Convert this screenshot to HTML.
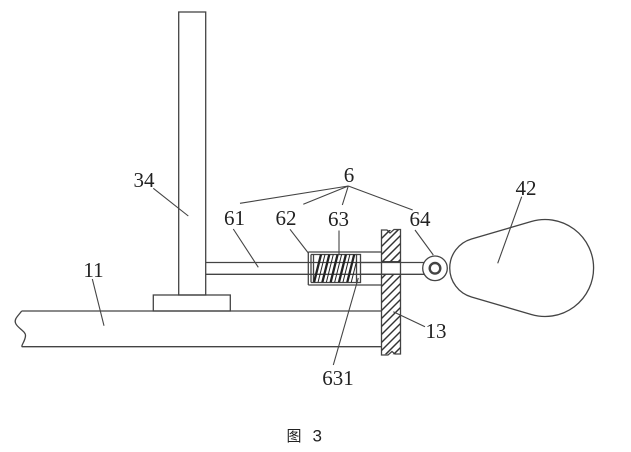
<!DOCTYPE html>
<html><head><meta charset="utf-8"><style>
html,body{margin:0;padding:0;background:#fff;}
svg{display:block;}
text{font-family:"Liberation Serif","Noto Serif CJK SC",serif;font-size:21px;fill:#222;}
</style></head><body>
<svg width="631" height="452" viewBox="0 0 631 452" xmlns="http://www.w3.org/2000/svg">
<defs>
<clipPath id="wallclip">
<rect x="381.5" y="230" width="19" height="31.7"/>
<rect x="381.5" y="274.3" width="19" height="80"/>
</clipPath>
<clipPath id="springclip">
<rect x="313.5" y="254.3" width="43" height="28"/>
</clipPath>
</defs>
<g fill="none" stroke="#444" stroke-width="1.3">
<!-- pole 34 -->
<rect x="178.7" y="12" width="27" height="283"/>
<!-- base -->
<rect x="153.3" y="295" width="77" height="16"/>
<!-- plate 11 -->
<path d="M21.7 311 L381.5 311 M21.7 346.7 L381.5 346.7"/>
<path d="M21.7 311 C18 316 14 319 15.5 323 C17 328 26 331 25.5 336 C25 341 22 344 21.7 346.7"/>
<!-- rod 61 -->
<path d="M205.7 262.5 L308.3 262.5 M205.7 274.3 L308.3 274.3"/>
<!-- cylinder 62 -->
<path d="M308.3 252 L381.5 252 M308.3 285 L381.5 285 M308.3 252 L308.3 285"/>
<path d="M311 254.5 L356.5 254.5 M311 282.5 L356.5 282.5 M311 254.5 L311 282.5 M313.5 254.5 L313.5 282.5"/>
<path d="M308.3 262.5 L381.5 262.5 M308.3 274.3 L381.5 274.3"/>
<!-- piston -->
<rect x="356.5" y="254.5" width="4" height="28"/>
<path d="M360.5 262.5 L381.5 262.5 M360.5 274.3 L381.5 274.3"/>
<!-- rod through wall to ring -->
<path d="M381.5 262.5 L425 262.5 M381.5 274.3 L425 274.3"/>
<!-- wall 13 -->
<path d="M381.5 230 L387 230 L390 233 L394 229.5 L400.5 229.5 L400.5 354 L395 354 L392 351.5 L388 355 L381.5 355 Z"/>
<path d="M381.5 261.7 L400.5 261.7 M381.5 274.3 L400.5 274.3"/>
<!-- ring 64 -->
<circle cx="435" cy="268.3" r="12.3" fill="#fff"/>
<circle cx="435" cy="268.3" r="5.3" stroke-width="2.4"/>
<!-- cam 42 -->
<path d="M471.5 239 L531.3 221.5 A48.5 48.5 0 1 1 531.3 314.5 L471.5 297 A30.2 30.2 0 0 1 471.5 239 Z" fill="#fff"/>
</g>
<!-- wall hatch -->
<g clip-path="url(#wallclip)" stroke="#333" stroke-width="1.5">
<line x1="370" y1="250" x2="410" y2="210"/>
<line x1="370" y1="258" x2="410" y2="218"/>
<line x1="370" y1="266" x2="410" y2="226"/>
<line x1="370" y1="274" x2="410" y2="234"/>
<line x1="370" y1="282" x2="410" y2="242"/>
<line x1="370" y1="290" x2="410" y2="250"/>
<line x1="370" y1="298" x2="410" y2="258"/>
<line x1="370" y1="306" x2="410" y2="266"/>
<line x1="370" y1="314" x2="410" y2="274"/>
<line x1="370" y1="322" x2="410" y2="282"/>
<line x1="370" y1="330" x2="410" y2="290"/>
<line x1="370" y1="338" x2="410" y2="298"/>
<line x1="370" y1="346" x2="410" y2="306"/>
<line x1="370" y1="354" x2="410" y2="314"/>
<line x1="370" y1="362" x2="410" y2="322"/>
<line x1="370" y1="370" x2="410" y2="330"/>
<line x1="370" y1="378" x2="410" y2="338"/>
<line x1="370" y1="386" x2="410" y2="346"/>
</g>
<!-- spring -->
<g clip-path="url(#springclip)" stroke="#222">
<g stroke-width="2.3">
<line x1="314" y1="282.5" x2="321" y2="254.5"/>
<line x1="322.3" y1="282.5" x2="329.3" y2="254.5"/>
<line x1="330.6" y1="282.5" x2="337.6" y2="254.5"/>
<line x1="338.9" y1="282.5" x2="345.9" y2="254.5"/>
<line x1="347.2" y1="282.5" x2="354.2" y2="254.5"/>
</g>
<g stroke-width="1">
<line x1="318" y1="282.5" x2="325" y2="254.5"/>
<line x1="326.3" y1="282.5" x2="333.3" y2="254.5"/>
<line x1="334.6" y1="282.5" x2="341.6" y2="254.5"/>
<line x1="342.9" y1="282.5" x2="349.9" y2="254.5"/>
<line x1="351.2" y1="282.5" x2="358.2" y2="254.5"/>
</g>
</g>
<!-- leader lines -->
<g stroke="#444" stroke-width="1.1" fill="none">
<line x1="153.3" y1="188.3" x2="188.3" y2="216"/>
<line x1="92.3" y1="279" x2="104" y2="325.7"/>
<line x1="233.3" y1="229" x2="258.3" y2="267.3"/>
<line x1="290" y1="229.3" x2="308.3" y2="253"/>
<line x1="348.3" y1="186" x2="240" y2="203.3"/>
<line x1="348.3" y1="186" x2="303.3" y2="204.3"/>
<line x1="348.3" y1="186" x2="342.3" y2="205"/>
<line x1="348.3" y1="186" x2="412.7" y2="210"/>
<line x1="339" y1="230.5" x2="339" y2="255"/>
<line x1="415" y1="230" x2="433.3" y2="255"/>
<line x1="521.7" y1="196.7" x2="497.7" y2="263.3"/>
<line x1="393.3" y1="311.7" x2="425" y2="326.7"/>
<line x1="358.3" y1="278" x2="333.3" y2="365"/>
</g>
<!-- labels -->
<text x="144" y="187" text-anchor="middle">34</text>
<text x="93.5" y="277" text-anchor="middle">11</text>
<text x="234.5" y="225" text-anchor="middle">61</text>
<text x="286" y="225" text-anchor="middle">62</text>
<text x="349" y="182" text-anchor="middle">6</text>
<text x="338.5" y="226" text-anchor="middle">63</text>
<text x="420" y="226" text-anchor="middle">64</text>
<text x="526" y="195" text-anchor="middle">42</text>
<text x="436" y="338" text-anchor="middle">13</text>
<text x="338" y="385" text-anchor="middle">631</text>
<text x="286.5" y="441" style="font-family:'Liberation Sans','Noto Sans CJK SC',sans-serif;font-size:15px;">图</text>
<text x="312.5" y="441.5" style="font-family:'Liberation Sans',sans-serif;font-size:17px;">3</text>
</svg>
</body></html>
